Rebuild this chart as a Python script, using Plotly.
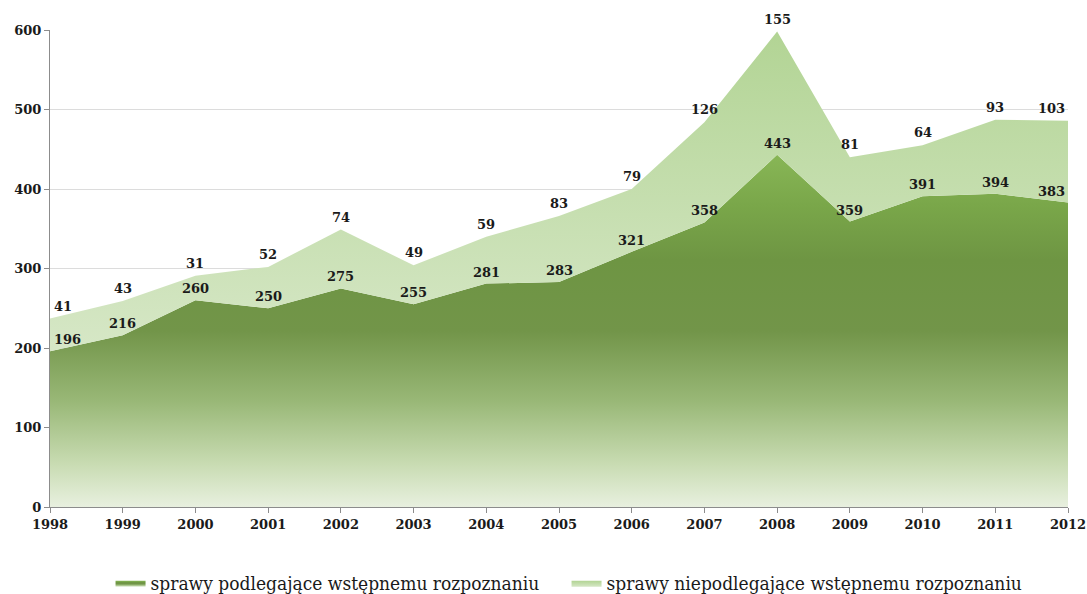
import plotly.graph_objects as go

years = [1998, 1999, 2000, 2001, 2002, 2003, 2004, 2005, 2006, 2007, 2008, 2009, 2010, 2011, 2012]
podlegajace = [196, 216, 260, 250, 275, 255, 281, 283, 321, 358, 443, 359, 391, 394, 383]
niepodlegajace = [41, 43, 31, 52, 74, 49, 59, 83, 79, 126, 155, 81, 64, 93, 103]
name_dark = "sprawy podlegające wstępnemu rozpoznaniu"
name_light = "sprawy niepodlegające wstępnemu rozpoznaniu"

label_font = dict(family="DejaVu Serif", size=13, color="#1a1a1a", weight="bold")

fig = go.Figure()
fig.add_trace(go.Scatter(
    x=years, y=podlegajace, name=name_dark, stackgroup="one",
    mode="lines", line=dict(width=0, color="#6f9445"),
    fillgradient=dict(type="vertical", start=0, stop=443,
                      colorscale=[[0, "#e8f0df"], [0.12, "#c9dcb3"], [0.3, "#99b877"],
                                  [0.5, "#729549"], [0.7, "#6e9543"], [0.85, "#79a649"],
                                  [1, "#88b656"]]),
))
fig.add_trace(go.Scatter(
    x=years, y=niepodlegajace, name=name_light, stackgroup="one",
    mode="lines", line=dict(width=0, color="#c3dca8"),
    fillgradient=dict(type="vertical", start=200, stop=600,
                      colorscale=[[0, "#d6e7c6"], [1, "#b2d494"]]),
))

n = len(years)
for i, (yr, d, l) in enumerate(zip(years, podlegajace, niepodlegajace)):
    if i == 0:
        xa, xs = "left", 2
    elif i == n - 1:
        xa, xs = "right", -1
    else:
        xa, xs = "center", 0
    fig.add_annotation(x=yr, y=d, text=str(d), showarrow=False, xanchor=xa, xshift=xs,
                       yanchor="bottom", yshift=2, font=label_font)
    fig.add_annotation(x=yr, y=d + l, text=str(l), showarrow=False, xanchor=xa, xshift=xs,
                       yanchor="bottom", yshift=3, font=label_font)

fig.update_layout(
    width=1087, height=594,
    margin=dict(l=50, r=19, t=30, b=87),
    paper_bgcolor="white", plot_bgcolor="white",
    showlegend=True,
    legend=dict(orientation="h", x=0.5212, xanchor="center", xref="container",
                y=0.0185, yanchor="middle", yref="container",
                font=dict(family="DejaVu Serif Condensed, Liberation Serif, serif", size=19,
                          color="#1a1a1a"),
                traceorder="normal", itemwidth=30, entrywidth=411),
    xaxis=dict(range=[1998, 2012], tickmode="array", tickvals=years,
               ticktext=[str(y) for y in years], automargin=False,
               ticklabeloverflow="allow",
               showgrid=False, showline=True, linecolor="#8c8c8c", linewidth=1,
               ticks="outside", ticklen=5, tickcolor="#8c8c8c",
               tickfont=dict(family="DejaVu Serif", size=13, color="#1a1a1a", weight="bold")),
    yaxis=dict(range=[0, 600], dtick=100, showgrid=True, gridcolor="#dcdcdc",
               showline=True, linecolor="#8c8c8c", linewidth=1, automargin=False,
               ticks="outside", ticklen=5, tickcolor="#8c8c8c", zeroline=False,
               tickfont=dict(family="DejaVu Serif", size=13, color="#1a1a1a", weight="bold")),
)

fig.write_html("out.html", config={"displayModeBar": False},
               post_script="document.body.style.margin='0';document.body.style.overflow='hidden';")
